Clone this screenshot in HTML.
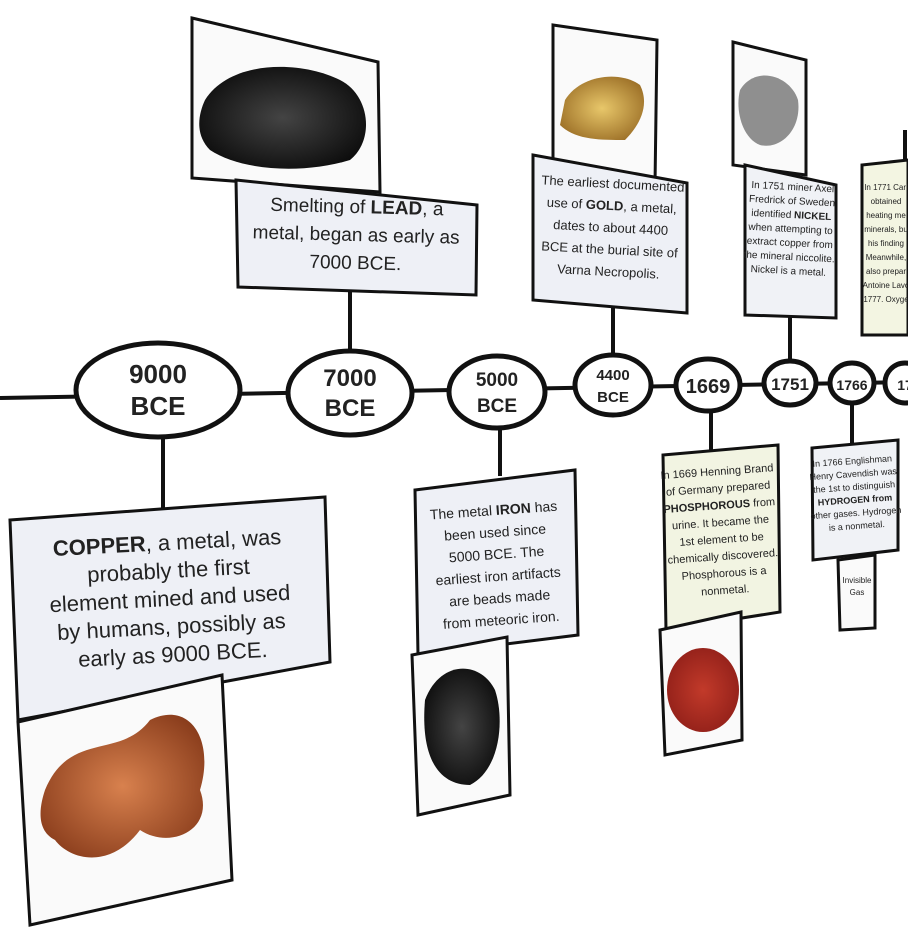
<!DOCTYPE html>
<html><head><meta charset="utf-8"><style>
html,body{margin:0;padding:0;background:#fff;width:908px;height:946px;overflow:hidden}
svg{display:block}
text{font-family:"Liberation Sans",sans-serif;fill:#222}
</style></head><body>
<svg width="908" height="946" viewBox="0 0 908 946" xmlns="http://www.w3.org/2000/svg">
<defs>
<radialGradient id="cu" cx="50%" cy="50%" r="60%"><stop offset="0" stop-color="#d8814e"/><stop offset="1" stop-color="#8a3d1c"/></radialGradient>
<radialGradient id="pb" cx="50%" cy="50%" r="60%"><stop offset="0" stop-color="#444"/><stop offset="1" stop-color="#0a0a0a"/></radialGradient>
<radialGradient id="au" cx="50%" cy="50%" r="60%"><stop offset="0" stop-color="#e8c76a"/><stop offset="1" stop-color="#9a6d25"/></radialGradient>
<radialGradient id="p" cx="50%" cy="50%" r="60%"><stop offset="0" stop-color="#c23a2a"/><stop offset="1" stop-color="#8e1e18"/></radialGradient>
</defs>
<g stroke="#111" stroke-width="4" fill="none">
<line x1="0" y1="398" x2="908" y2="382"/>
<line x1="163" y1="436" x2="163" y2="510"/>
<line x1="350" y1="290" x2="350" y2="354"/>
<line x1="500" y1="428" x2="500" y2="476"/>
<line x1="613" y1="308" x2="613" y2="358"/>
<line x1="711" y1="410" x2="711" y2="452"/>
<line x1="790" y1="316" x2="790" y2="362"/>
<line x1="852" y1="402" x2="852" y2="446"/>
<line x1="905" y1="130" x2="905" y2="170"/>
</g>
<g stroke="#111" stroke-width="5" fill="#fff">
<ellipse cx="158" cy="390" rx="82" ry="47"/>
<ellipse cx="350" cy="393" rx="62" ry="42"/>
<ellipse cx="497" cy="392" rx="48" ry="36"/>
<ellipse cx="613" cy="385" rx="38" ry="30"/>
<ellipse cx="708" cy="385" rx="32" ry="26"/>
<ellipse cx="790" cy="383" rx="26" ry="22"/>
<ellipse cx="852" cy="383" rx="22" ry="20"/>
<ellipse cx="905" cy="383" rx="20" ry="20"/>
</g>
<g text-anchor="middle" font-size="24" font-weight="bold">
<text x="158" y="383" font-size="26">9000</text><text x="158" y="415" font-size="26">BCE</text>
<text x="350" y="386">7000</text><text x="350" y="416">BCE</text>
<text x="497" y="386" font-size="19">5000</text><text x="497" y="412" font-size="19">BCE</text>
<text x="613" y="380" font-size="15">4400</text><text x="613" y="402" font-size="15">BCE</text>
<text x="708" y="393" font-size="20">1669</text>
<text x="790" y="390" font-size="17">1751</text>
<text x="852" y="390" font-size="14">1766</text>
<text x="905" y="390" font-size="14">17</text>
</g>
<g stroke="#111" stroke-width="3">
<polygon points="10,520 325,497 330,662 18,720" fill="#eef0f6"/>
<polygon points="18,722 222,675 232,880 30,925" fill="#fafafa"/>
<polygon points="192,18 378,62 380,192 192,178" fill="#fafafa"/>
<polygon points="236,180 477,205 476,295 238,287" fill="#eef0f6"/>
<polygon points="553,25 657,40 655,185 553,160" fill="#fafafa"/>
<polygon points="533,155 687,183 687,313 533,300" fill="#eef0f6"/>
<polygon points="733,42 806,60 806,175 733,165" fill="#fafafa"/>
<polygon points="745,165 836,185 836,318 745,315" fill="#f0f2f6"/>
<polygon points="862,165 908,160 908,335 862,335" fill="#f3f5e2"/>
<polygon points="415,490 575,470 578,635 418,655" fill="#eef0f6"/>
<polygon points="412,655 507,637 510,795 418,815" fill="#fafafa"/>
<polygon points="663,455 778,445 780,612 666,630" fill="#f2f4e2"/>
<polygon points="660,630 741,612 742,740 665,755" fill="#fafafa"/>
<polygon points="812,448 898,440 898,550 813,560" fill="#f0f2f6"/>
<polygon points="838,560 875,555 875,628 840,630" fill="#fafafa"/>
</g>
<path d="M45,790 C70,730 120,760 150,720 C190,700 215,740 200,790 C215,830 170,850 140,830 C110,870 70,860 55,840 C35,830 40,805 45,790Z" fill="url(#cu)"/>
<path d="M205,100 C230,60 300,60 340,80 C370,95 375,140 350,160 C300,175 240,170 210,150 C195,135 198,115 205,100Z" fill="url(#pb)"/>
<path d="M565,100 C580,75 620,70 640,85 C650,105 640,125 625,140 C600,140 575,140 560,125 Z" fill="url(#au)"/>
<path d="M740,90 C755,65 790,75 798,100 C802,130 780,150 760,145 C742,138 735,110 740,90Z" fill="#8f8f8f"/>
<path d="M425,700 C440,660 480,660 495,690 C505,720 500,770 470,785 C440,785 420,760 425,700Z" fill="url(#pb)"/>
<ellipse cx="703" cy="690" rx="36" ry="42" fill="url(#p)"/>
<g text-anchor="middle">
<g transform="rotate(-3 170 600)" font-size="22">
<text x="170" y="550"><tspan font-weight="bold">COPPER</tspan>, a metal, was</text>
<text x="170" y="578">probably the first</text>
<text x="170" y="606">element mined and used</text>
<text x="170" y="634">by humans, possibly as</text>
<text x="170" y="662">early as 9000 BCE.</text>
</g>
<g transform="rotate(1.5 356 240)" font-size="19">
<text x="356" y="213">Smelting of <tspan font-weight="bold">LEAD</tspan>, a</text>
<text x="356" y="241">metal, began as early as</text>
<text x="356" y="269">7000 BCE.</text>
</g>
<g transform="rotate(3 610 240)" font-size="13">
<text x="610" y="188">The earliest documented</text>
<text x="610" y="210">use of <tspan font-weight="bold">GOLD</tspan>, a metal,</text>
<text x="610" y="232">dates to about 4400</text>
<text x="610" y="254">BCE at the burial site of</text>
<text x="610" y="276">Varna Necropolis.</text>
</g>
<g transform="rotate(3 790 240)" font-size="10">
<text x="790" y="190">In 1751 miner Axel</text>
<text x="790" y="204">Fredrick of Sweden</text>
<text x="790" y="218">identified <tspan font-weight="bold">NICKEL</tspan></text>
<text x="790" y="232">when attempting to</text>
<text x="790" y="246">extract copper from</text>
<text x="790" y="260">the mineral niccolite.</text>
<text x="790" y="274">Nickel is a metal.</text>
</g>
<g transform="rotate(-4 497 560)" font-size="14">
<text x="497" y="515">The metal <tspan font-weight="bold">IRON</tspan> has</text>
<text x="497" y="537">been used since</text>
<text x="497" y="559">5000 BCE.  The</text>
<text x="497" y="581">earliest iron artifacts</text>
<text x="497" y="603">are beads made</text>
<text x="497" y="625">from meteoric iron.</text>
</g>
<g transform="rotate(-4 721 530)" font-size="11">
<text x="721" y="475">In 1669 Henning Brand</text>
<text x="721" y="492">of Germany prepared</text>
<text x="721" y="509"><tspan font-weight="bold">PHOSPHOROUS</tspan> from</text>
<text x="721" y="526">urine.  It became the</text>
<text x="721" y="543">1st element to be</text>
<text x="721" y="560">chemically discovered.</text>
<text x="721" y="577">Phosphorous is a</text>
<text x="721" y="594">nonmetal.</text>
</g>
<g transform="rotate(-4 855 500)" font-size="9">
<text x="855" y="464">In 1766 Englishman</text>
<text x="855" y="477">Henry Cavendish was</text>
<text x="855" y="490">the 1st to distinguish</text>
<text x="855" y="503" font-weight="bold">HYDROGEN from</text>
<text x="855" y="516">other gases.  Hydrogen</text>
<text x="855" y="529">is a nonmetal.</text>
</g>
<text x="857" y="583" font-size="8">Invisible</text>
<text x="857" y="595" font-size="8">Gas</text>
<g font-size="8" fill="#555"><text x="886" y="190">In 1771 Carl</text><text x="886" y="204">obtained</text><text x="886" y="218">heating me</text><text x="886" y="232">minerals, bu</text><text x="886" y="246">his finding</text><text x="886" y="260">Meanwhile,</text><text x="886" y="274">also prepar</text><text x="886" y="288">Antoine Lavo</text><text x="886" y="302">1777.  Oxyge</text></g>
</g>
</svg>
</body></html>
